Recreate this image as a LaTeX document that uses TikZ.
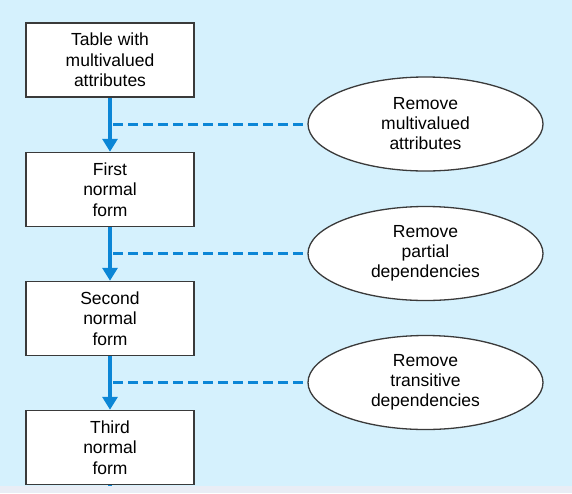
\documentclass[tikz,border=0pt]{standalone}
\usepackage{fontspec}
\setmainfont{Liberation Sans}
\usetikzlibrary{arrows.meta,shapes.geometric}
\definecolor{bg}{HTML}{D5F1FD}
\definecolor{stripc}{HTML}{E9EDF5}
\definecolor{flow}{HTML}{0B86D6}
\definecolor{edgec}{HTML}{3A3A3A}
\begin{document}
\begin{tikzpicture}[x=1pt,y=-1pt,
  stepbox/.style={draw=edgec,line width=1.5pt,fill=white,minimum width=168pt,minimum height=74pt,inner sep=0pt,align=center,font=\fontsize{17.5}{20.5}\selectfont},
  rulebox/.style={ellipse,draw=edgec,line width=1.3pt,fill=white,minimum width=235pt,minimum height=94pt,inner sep=0pt,align=center,font=\fontsize{17.5}{20}\selectfont},
  flowarrow/.style={draw=flow,line width=3.5pt,-{Triangle[width=15pt,length=13pt]}},
  dashlink/.style={draw=flow,line width=3pt,dash pattern=on 10pt off 5pt}]
\useasboundingbox (0,0) rectangle (572,493);
\fill[bg] (0,0) rectangle (572,493);
\node[stepbox] (b1) at (110,60) {Table with\\multivalued\\attributes};
\node[stepbox] (b2) at (110,189.5) {First\\normal\\form};
\node[stepbox] (b3) at (110,318.5) {Second\\normal\\form};
\node[stepbox] (b4) at (110,447.5) {Third\\normal\\form};
\node[rulebox] (e1) at (425.5,124) {Remove\\multivalued\\attributes};
\node[rulebox] (e2) at (425.5,253.5) {Remove\\partial\\dependencies};
\node[rulebox] (e3) at (425.5,382.5) {Remove\\transitive\\dependencies};
\draw[flowarrow] (b1.south) -- (b2.north);
\draw[flowarrow] (b2.south) -- (b3.north);
\draw[flowarrow] (b3.south) -- (b4.north);
\coordinate (tail) at (110,488);
\draw[draw=flow,line width=3.5pt] (b4.south) -- (tail);
\draw[dashlink] ([xshift=3pt]b1.south |- e1.west) -- (e1.west);
\draw[dashlink] ([xshift=3pt]b2.south |- e2.west) -- (e2.west);
\draw[dashlink] ([xshift=3pt]b3.south |- e3.west) -- (e3.west);
\fill[stripc] (0,486) rectangle (572,493);
\end{tikzpicture}
\end{document}
